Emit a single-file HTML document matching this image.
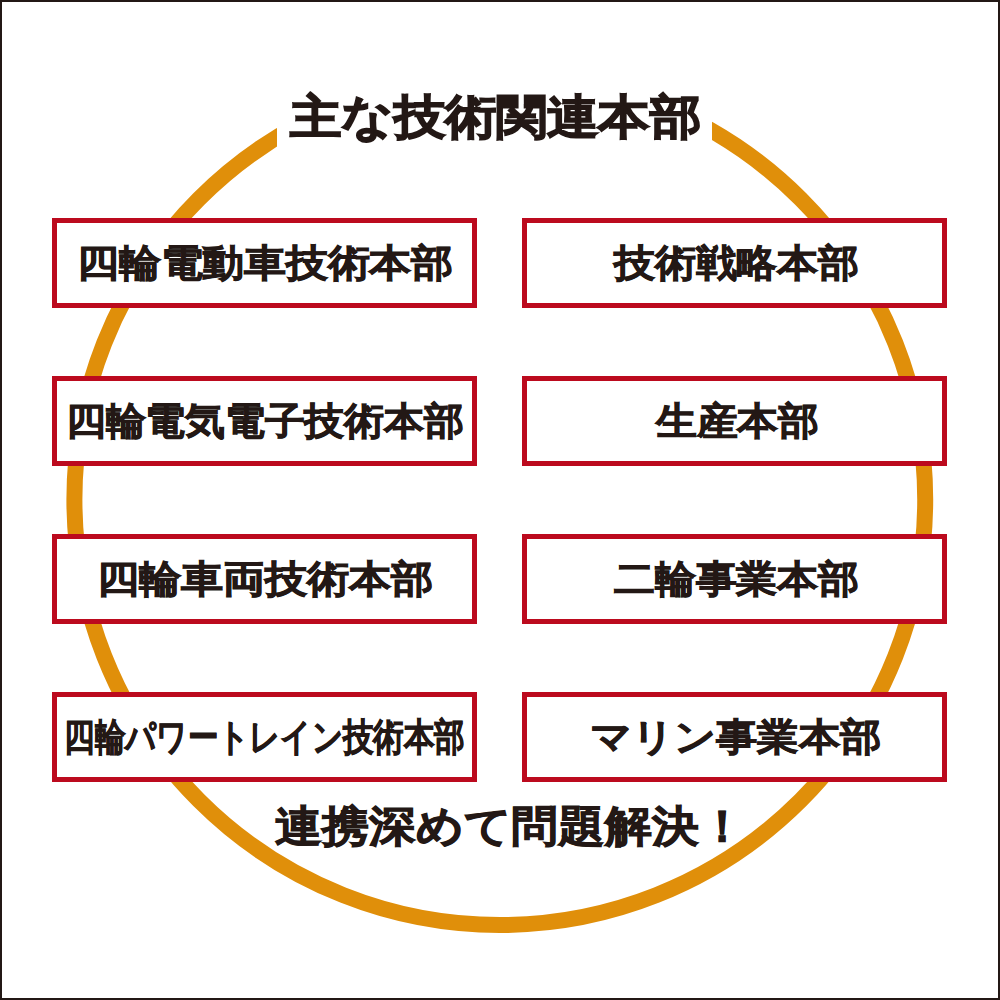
<!DOCTYPE html>
<html lang="ja">
<head>
<meta charset="utf-8">
<style>
html,body{margin:0;padding:0;}
body{width:1000px;height:1000px;position:relative;overflow:hidden;background:#fff;-webkit-font-smoothing:antialiased;font-family:"Liberation Sans",sans-serif;color:#231815;}
.frame{position:absolute;left:0;top:0;width:1000px;height:1000px;box-sizing:border-box;border:2px solid #231815;z-index:10;}
svg.ring{position:absolute;left:0;top:0;}
.title{position:absolute;left:277px;top:50px;width:435px;height:105px;background:#fff;}
.t{font-weight:bold;white-space:nowrap;-webkit-text-stroke:0.9px #231815;display:inline-block;transform-origin:50% 50%;}
.box{position:absolute;width:425px;height:90px;box-sizing:border-box;border:5px solid #bc0a1e;background:#fff;display:flex;align-items:center;justify-content:center;}
.box .t{font-size:42px;line-height:50px;}
.L{left:52px;}
.R{left:522px;}
.r1{top:218px;}
.r2{top:376px;}
.r3{top:534px;}
.r4{top:692px;}
.ttl{position:absolute;left:0;top:0;width:1000px;height:20px;display:flex;justify-content:center;align-items:center;}
</style>
</head>
<body>
<svg class="ring" width="1000" height="1000" viewBox="0 0 1000 1000">
<circle cx="499.8" cy="499.6" r="425.4" fill="none" stroke="#e08f0a" stroke-width="16"/>
</svg>
<div class="title"></div>
<div class="ttl" style="top:106px"><span class="t" style="font-size:52px;line-height:60px;-webkit-text-stroke:1.6px #231815;transform:translate(-5px,0.6px) scale(0.985,0.9)">主な技術関連本部</span></div>

<div class="box L r1"><span class="t" style="transform:scale(0.995,0.9)">四輪電動車技術本部</span></div>
<div class="box R r1"><span class="t" style="transform:translateX(1.4px) scale(0.971,0.9)">技術戦略本部</span></div>
<div class="box L r2"><span class="t" style="transform:translateX(-0.4px) scale(0.947,0.9)">四輪電気電子技術本部</span></div>
<div class="box R r2"><span class="t" style="transform:translateX(2.3px) scale(0.968,0.9)">生産本部</span></div>
<div class="box L r3"><span class="t" style="transform:translateX(0.9px) scale(1,0.9)">四輪車両技術本部</span></div>
<div class="box R r3"><span class="t" style="transform:translateX(1.4px) scale(0.971,0.9)">二輪事業本部</span></div>
<div class="box L r4"><span class="t" style="transform:translateX(-0.6px) scale(0.725,0.9)">四輪パワートレイン技術本部</span></div>
<div class="box R r4"><span class="t" style="transform:translateX(0.9px) scale(0.979,0.9)">マリン事業本部</span></div>

<div class="ttl" style="top:816px"><span class="t" style="font-size:47px;line-height:60px;-webkit-text-stroke:1px #231815;transform:translateX(10.5px) scale(0.997,0.917)">連携深めて問題解決！</span></div>
<div class="frame"></div>
</body>
</html>
